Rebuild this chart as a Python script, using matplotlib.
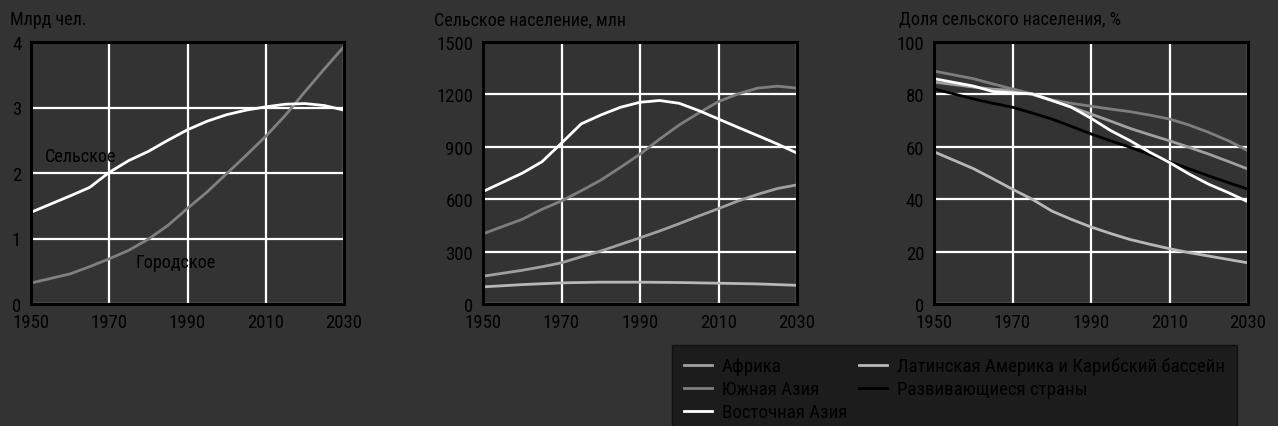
import matplotlib
matplotlib.use("Agg")
import matplotlib.pyplot as plt
from matplotlib import font_manager

# ── Data ───────────────────────────────────────────────────────────────────────
years = [1950, 1960, 1965, 1970, 1975, 1980, 1985, 1990, 1995, 2000,
         2005, 2010, 2015, 2020, 2025, 2030]

# panel 1: world population, bn
world_rural = [1.40, 1.65, 1.78, 2.01, 2.19, 2.33, 2.50, 2.66, 2.79, 2.89,
               2.96, 3.01, 3.05, 3.06, 3.03, 2.96]
world_urban = [0.32, 0.46, 0.57, 0.69, 0.82, 0.99, 1.20, 1.46, 1.71, 1.99,
               2.27, 2.56, 2.88, 3.24, 3.59, 3.93]

# panel 2: rural population, mln
rural_east_asia = [644, 749, 814, 921, 1031, 1082, 1126, 1155, 1165, 1149,
                   1107, 1059, 1011, 964, 916, 864]
rural_south_asia = [402, 485, 542, 590, 648, 709, 782, 858, 944, 1025,
                    1094, 1159, 1203, 1236, 1247, 1236]
rural_africa = [159, 193, 213, 236, 270, 303, 341, 379, 418, 460,
                504, 546, 590, 628, 661, 682]
rural_latam = [98, 111, 116, 121, 123, 125, 125, 125, 124, 123,
               121, 119, 117, 115, 111, 107]

# panel 3: rural share, %
share_south_asia = [88.9, 86.0, 84.0, 82.1, 80.2, 77.9, 76.6, 75.5, 74.4, 73.4,
                    72.1, 70.6, 68.3, 65.5, 62.3, 58.5]
share_africa = [84.7, 82.8, 82.0, 81.5, 80.0, 77.7, 75.2, 72.5, 69.8, 67.0,
                64.6, 62.3, 59.8, 57.2, 54.4, 51.5]
share_east_asia = [86.0, 83.2, 81.1, 80.6, 80.2, 77.7, 75.1, 70.9, 66.2, 62.3,
                   57.9, 54.0, 49.6, 45.7, 42.5, 39.0]
share_developing = [82.1, 78.3, 76.6, 75.1, 72.9, 70.6, 67.8, 64.9, 62.3, 59.8,
                    57.0, 54.3, 51.6, 48.9, 46.3, 43.8]
share_latam = [58.1, 51.7, 47.8, 43.8, 40.0, 35.5, 32.3, 29.4, 26.9, 24.6,
               22.8, 21.1, 19.6, 18.3, 17.0, 15.7]

x_ticks = [1950, 1970, 1990, 2010, 2030]
legend_labels = ["Африка", "Южная Азия", "Восточная Азия",
                 "Латинская Америка и Карибский бассейн", "Развивающиеся страны"]

# ── Style ──────────────────────────────────────────────────────────────────────
BG = "#333333"
C_AFRICA = "#a0a0a0"
C_SOUTH = "#7e7e7e"
C_EAST = "#ffffff"
C_LATAM = "#b8b8b8"
C_DEV = "#000000"


def has_cyrillic(entry):
    try:
        return font_manager.get_font(entry.fname).get_char_index(ord("Ж")) != 0
    except Exception:
        return False


# the original uses a narrow grotesque; look for a condensed face with Cyrillic
prefs = ["Liberation Sans Narrow", "Roboto Condensed", "Open Sans Condensed",
         "Noto Sans", "DejaVu Sans"]
chosen = None
for fam in prefs:
    for f in font_manager.fontManager.ttflist:
        if f.name != fam or f.style != "normal" or f.weight not in (400, "normal", "regular"):
            continue
        narrow = "Narrow" in fam or "Condensed" in fam or f.stretch in ("condensed", "semi-condensed")
        if narrow and has_cyrillic(f):
            chosen = f
            break
    if chosen:
        break

if chosen is not None:
    plt.rcParams["font.family"] = [chosen.name, "DejaVu Sans"]
    if chosen.stretch in ("condensed", "semi-condensed"):
        plt.rcParams["font.stretch"] = chosen.stretch
else:
    plt.rcParams["font.family"] = ["Liberation Sans", "DejaVu Sans"]

fig = plt.figure(figsize=(12.78, 4.27), dpi=100, facecolor=BG)
W, H = 1278, 427
renderer = fig.canvas.get_renderer()


def fit_size(s, target_px):
    # font size that makes text s about target_px wide
    t = fig.text(0, 0, s, fontsize=10)
    w = t.get_window_extent(renderer).width
    t.remove()
    return 10 * target_px / w


tick_fs = min(fit_size("1950", 37), 13.5)
title_fs = min(fit_size("Сельское население, млн", 201), 13)
note_fs = min(fit_size("Городское", 80), 13.5)
leg_fs = min(fit_size(legend_labels[3], 328), 16)
leg_px = leg_fs * 100 / 72

boxes = [(31, 344), (483, 797), (934, 1248)]
top, bottom = 43, 305
axes = []
for l, r in boxes:
    ax = fig.add_axes([l / W, 1 - bottom / H, (r - l) / W, (bottom - top) / H])
    ax.set_facecolor(BG)
    for s in ax.spines.values():
        s.set_color("black")
        s.set_linewidth(2.2)
    ax.set_xlim(1950, 2030)
    ax.set_xticks(x_ticks)
    ax.grid(True, color="white", linewidth=1.6)
    ax.set_axisbelow(True)
    ax.tick_params(length=0, labelsize=tick_fs, labelcolor="black", pad=7)
    ax.tick_params(axis="x", pad=6.5)
    axes.append(ax)

ax1, ax2, ax3 = axes

# panel 1
ax1.set_ylim(0, 4)
ax1.set_yticks([0, 1, 2, 3, 4])
ax1.plot(years, world_urban, color="#808080", lw=2)
ax1.plot(years, world_rural, color="white", lw=2)
ax1.text(1953.6, 2.26, "Сельское", fontsize=note_fs, color="black", va="center")
ax1.text(1976.6, 0.64, "Городское", fontsize=note_fs, color="black", va="center")

# panel 2
ax2.set_ylim(0, 1500)
ax2.set_yticks([0, 300, 600, 900, 1200, 1500])
ax2.plot(years, rural_latam, color=C_LATAM, lw=2)
ax2.plot(years, rural_africa, color=C_AFRICA, lw=2)
ax2.plot(years, rural_south_asia, color=C_SOUTH, lw=2)
ax2.plot(years, rural_east_asia, color=C_EAST, lw=2)

# panel 3
ax3.set_ylim(0, 100)
ax3.set_yticks([0, 20, 40, 60, 80, 100])
l_af, = ax3.plot(years, share_africa, color=C_AFRICA, lw=2)
l_sa, = ax3.plot(years, share_south_asia, color=C_SOUTH, lw=2)
l_la, = ax3.plot(years, share_latam, color=C_LATAM, lw=2)
l_dv, = ax3.plot(years, share_developing, color=C_DEV, lw=2)
l_ea, = ax3.plot(years, share_east_asia, color=C_EAST, lw=2)

# titles
fig.text(10 / W, 1 - 20 / H, "Млрд чел.", fontsize=title_fs, color="black", va="center")
fig.text(434 / W, 1 - 20 / H, "Сельское население, млн", fontsize=title_fs, color="black", va="center")
fig.text(899 / W, 1 - 20 / H, "Доля сельского населения, %", fontsize=title_fs, color="black", va="center")

leg = fig.legend([l_af, l_sa, l_ea, l_la, l_dv], legend_labels, ncol=2,
                 loc="upper left", bbox_to_anchor=(672 / W, 1 - 346 / H),
                 borderaxespad=0, fontsize=leg_fs, frameon=True, fancybox=False,
                 handlelength=28 / leg_px, handletextpad=10 / leg_px,
                 columnspacing=12 / leg_px, labelspacing=22.5 / leg_px - 0.93,
                 borderpad=12 / leg_px, labelcolor="black")
leg.get_frame().set_facecolor("#1c1c1c")
leg.get_frame().set_edgecolor("#111111")
leg.get_frame().set_alpha(1)

plt.savefig("out.png", dpi=100, facecolor=BG)
